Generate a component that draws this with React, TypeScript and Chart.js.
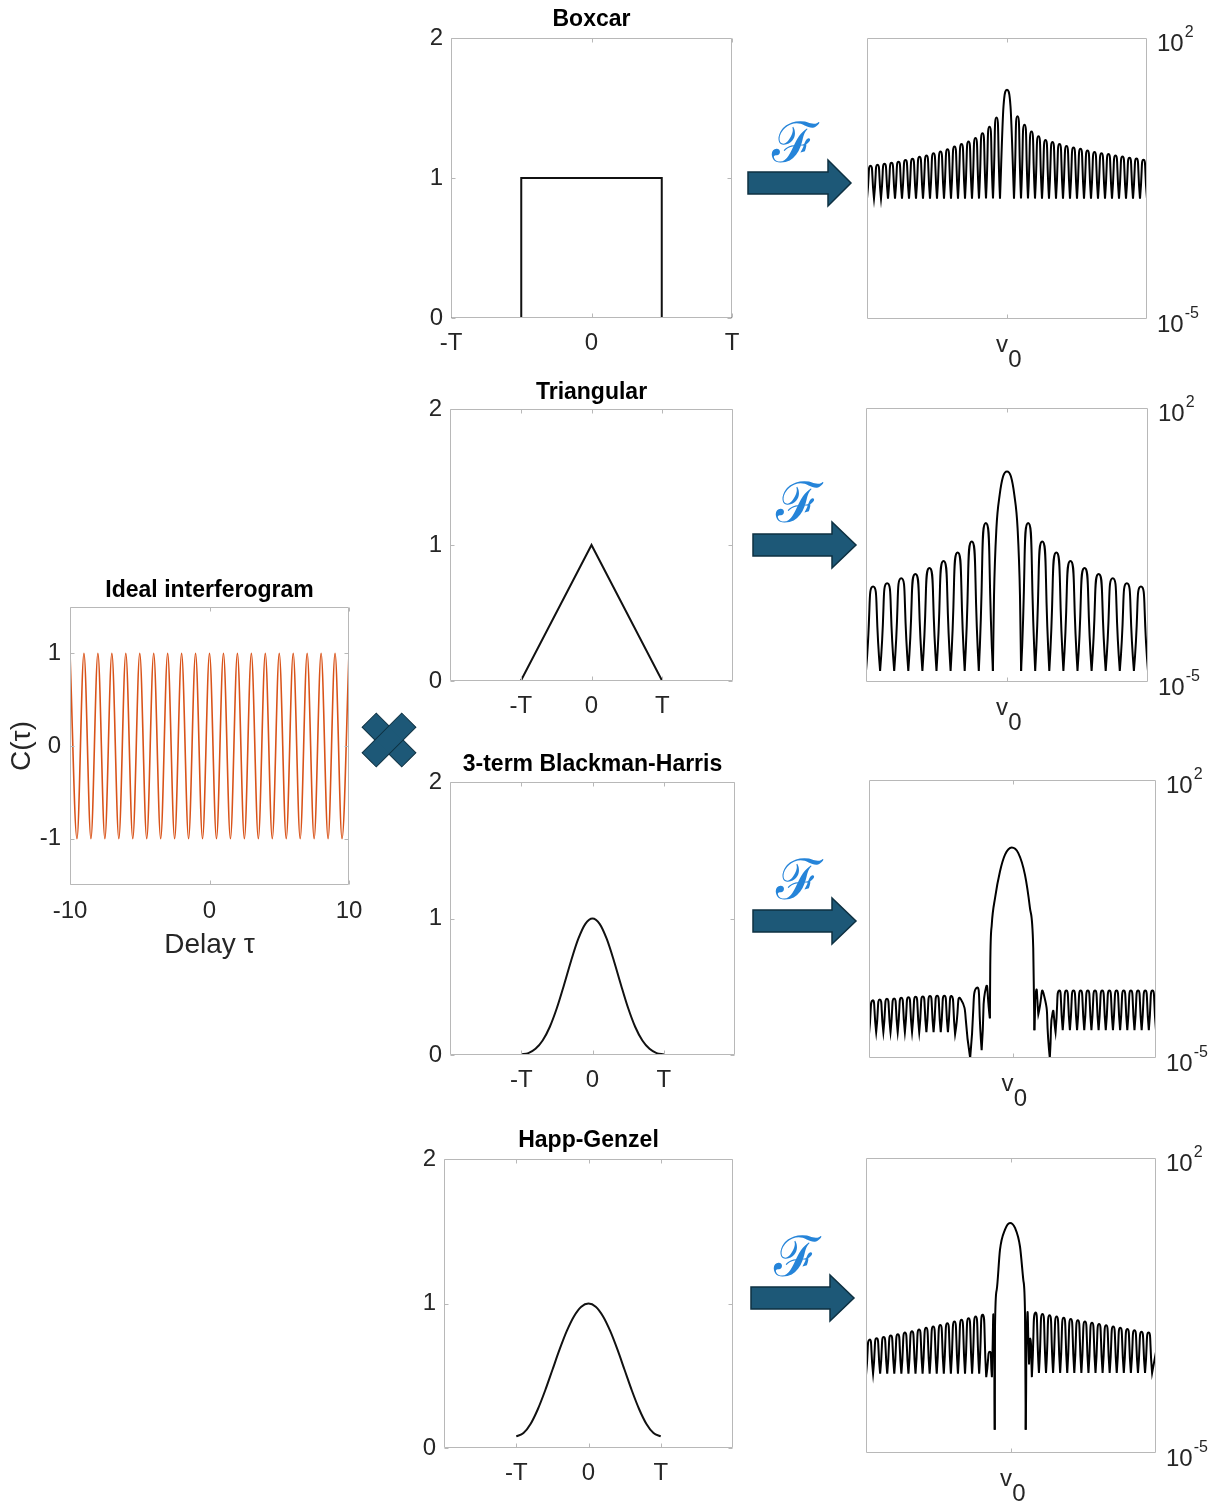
import React, { useEffect, useRef } from 'react';
import { Chart, registerables } from 'chart.js';

Chart.register(...registerables);

const FONT = "'Liberation Sans', Arial, Helvetica, sans-serif";
const TEXT = '#262626';
const BOX = '#b8b8b8';
const LINE = '#111111';
const ORANGE = '#D95319';
const ARROW = '#1d5877';
const ARROW_EDGE = '#0e3142';
const SCRIPT_BLUE = '#2584d9';

// ---------------- data ----------------
// Ideal interferogram: extrema of C(tau)
const interferogramX = [-10, -9.5, -9, -8.5, -8, -7.5, -7, -6.5, -6, -5.5, -5, -4.5, -4, -3.5, -3, -2.5, -2, -1.5, -1, -0.5, 0, 0.5, 1, 1.5, 2, 2.5, 3, 3.5, 4, 4.5, 5, 5.5, 6, 6.5, 7, 7.5, 8, 8.5, 9, 9.5, 10];
const interferogramY = [1, -1, 1, -1, 1, -1, 1, -1, 1, -1, 1, -1, 1, -1, 1, -1, 1, -1, 1, -1, 1, -1, 1, -1, 1, -1, 1, -1, 1, -1, 1, -1, 1, -1, 1, -1, 1, -1, 1, -1, 1];
const interferogramXTicks = [-10, 0, 10];
const interferogramYTicks = [-1, 0, 1];

// Window functions
const windowTickValues = [-1, 0, 1];
const windowTickLabels = ['-T', '0', 'T'];
const windowYTicks = [0, 1, 2];

const boxcarX = [-1, -0.5, -0.5, 0.5, 0.5, 1];
const boxcarY = [0, 0, 1, 1, 0, 0];
const triangularX = [-1, 0, 1];
const triangularY = [0, 1, 0];
const blackmanX = [-1, -0.9, -0.8, -0.7, -0.6, -0.5, -0.4, -0.3, -0.2, -0.1, 0, 0.1, 0.2, 0.3, 0.4, 0.5, 0.6, 0.7, 0.8, 0.9, 1];
const blackmanY = [0.005, 0.014, 0.045, 0.106, 0.205, 0.344, 0.513, 0.691, 0.85, 0.961, 1, 0.961, 0.85, 0.691, 0.513, 0.344, 0.205, 0.106, 0.045, 0.014, 0.005];
const happX = [-1, -0.9, -0.8, -0.7, -0.6, -0.5, -0.4, -0.3, -0.2, -0.1, 0, 0.1, 0.2, 0.3, 0.4, 0.5, 0.6, 0.7, 0.8, 0.9, 1];
const happY = [0.08, 0.103, 0.168, 0.27, 0.398, 0.54, 0.682, 0.81, 0.912, 0.978, 1, 0.978, 0.912, 0.81, 0.682, 0.54, 0.398, 0.27, 0.168, 0.103, 0.08];

// Spectra (log10 of magnitude)
const spectrumExpLabels = [2, -5];

const boxcarSpecLeftPeaks = [-1.18, -1.16, -1.13, -1.11, -1.08, -1.04, -1.01, -0.96, -0.93, -0.87, -0.83, -0.77, -0.7, -0.64, -0.58, -0.49, -0.37, -0.21, 0.02];
const boxcarSpecMainX = [-1, -0.5, 0, 0.5, 1];
const boxcarSpecMainY = [-2.0, 0.3, 0.71, 0.3, -2.0];
const boxcarSpecRightPeaks = [0.05, -0.16, -0.33, -0.45, -0.54, -0.59, -0.64, -0.69, -0.73, -0.76, -0.8, -0.84, -0.87, -0.89, -0.93, -0.95, -0.98, -1.0, -1.03];
const boxcarSpecNull = -2.0;

const triSpecLeftPeaks = [-2.56, -2.48, -2.35, -2.24, -2.09, -1.91, -1.69, -1.41, -0.94];
const triSpecMainX = [-1, -0.92, -0.75, -0.52, -0.28, 0, 0.28, 0.52, 0.75, 0.92, 1];
const triSpecMainY = [-4.72, -2.78, -1.07, -0.22, 0.25, 0.38, 0.25, -0.22, -1.07, -2.78, -4.72];
const triSpecRightPeaks = [-0.94, -1.41, -1.69, -1.91, -2.09, -2.24, -2.35, -2.48, -2.56];
const triSpecNull = -4.72;

const bhLeftX = [
  -20, -19.5, -19, -18.5, -18, -17.5, -17, -16.5, -16, -15.5, -15, -14.5, -14, -13.5, -13, -12.5, -12, -11.5, -11, -10.5, -10, -9.5, -9, -8.5, -8,
  -7.2, -5.9, -5.0, -4.3, -3.7, -3.15,
];
const bhLeftY = [
  -4.4, -3.55, -4.35, -3.53, -4.35, -3.51, -4.35, -3.5, -4.35, -3.48, -4.35, -3.47, -4.35, -3.46, -4.35, -3.45, -4.35, -3.44, -4.35, -3.43, -4.35, -3.43, -4.35, -3.44, -4.4,
  -3.52, -5.0, -3.23, -4.8, -3.23, -4.0,
];
const bhMainX = [-3.15, -3.1, -2.89, -2.43, -1.74, -1.04, -0.11, 0.81, 1.74, 2.43, 2.89, 2.99, 3.05];
const bhMainY = [-4.0, -2.65, -1.64, -0.97, -0.3, 0.12, 0.3, 0.16, -0.39, -1.22, -2.23, -3.48, -4.3];
const bhRightX = [
  3.05, 3.3, 3.6, 4.3, 5.2, 5.6, 6.0,
  6.5, 7, 7.5, 8, 8.5, 9, 9.5, 10, 10.5, 11, 11.5, 12, 12.5, 13, 13.5, 14, 14.5, 15, 15.5, 16, 16.5, 17, 17.5, 18, 18.5, 19, 19.5, 20,
];
const bhRightY = [
  -4.3, -3.3, -3.9, -3.36, -5.0, -3.85, -4.35,
  -3.3, -4.3, -3.3, -4.3, -3.3, -4.3, -3.3, -4.3, -3.3, -4.3, -3.3, -4.3, -3.3, -4.3, -3.3, -4.3, -3.3, -4.3, -3.3, -4.3, -3.3, -4.3, -3.3, -4.3, -3.3, -4.3, -3.3, -4.3,
];

const hgLeftX = [
  -20.5, -20, -19.5, -19, -18.5, -18, -17.5, -17, -16.5, -16, -15.5, -15, -14.5, -14, -13.5, -13, -12.5, -12, -11.5, -11, -10.5, -10, -9.5, -9, -8.5, -8, -7.5, -7, -6.5, -6, -5.5, -5, -4.5, -4, -3.5,
  -3.0, -2.7, -2.45, -2.3,
];
const hgLeftY = [
  -3.15, -2.31, -3.12, -2.28, -3.12, -2.25, -3.12, -2.21, -3.12, -2.18, -3.12, -2.14, -3.12, -2.11, -3.12, -2.07, -3.12, -2.03, -3.12, -2.0, -3.12, -1.96, -3.12, -1.92, -3.12, -1.88, -3.12, -1.84, -3.12, -1.8, -3.12, -1.76, -3.12, -1.72, -3.2,
  -2.6, -3.2, -1.79, -4.45,
];
const hgMainX = [-2.3, -2.26, -2.02, -1.56, -0.85, -0.14, 0.57, 1.27, 1.74, 1.98, 2.08];
const hgMainY = [-4.45, -2.0, -1.13, -0.18, 0.3, 0.46, 0.34, -0.1, -0.89, -1.68, -4.45];
const hgRightX = [
  2.08, 2.3, 2.55, 2.75, 2.95,
  3.45, 3.95, 4.45, 4.95, 5.45, 5.95, 6.45, 6.95, 7.45, 7.95, 8.45, 8.95, 9.45, 9.95, 10.45, 10.95, 11.45, 11.95, 12.45, 12.95, 13.45, 13.95, 14.45, 14.95, 15.45, 15.95, 16.45, 16.95, 17.45, 17.95, 18.45, 18.95, 19.45, 19.95, 20.5,
];
const hgRightY = [
  -4.45, -1.75, -2.9, -2.3, -3.2,
  -1.67, -3.1, -1.7, -3.1, -1.73, -3.1, -1.76, -3.1, -1.79, -3.1, -1.82, -3.1, -1.85, -3.1, -1.88, -3.1, -1.91, -3.1, -1.94, -3.1, -1.97, -3.1, -2.0, -3.1, -2.03, -3.1, -2.06, -3.1, -2.09, -3.1, -2.12, -3.1, -2.14, -3.1, -2.6,
];

// ---------------- helpers ----------------
type Pt = { x: number; y: number };
type Spectrum = { left: Pt[]; main: Pt[]; right: Pt[] };

function toPoints(xs: number[], ys: number[]): Pt[] {
  return xs.map((x, i) => ({ x, y: ys[i] }));
}

function logPoints(xs: number[], logs: number[]): Pt[] {
  return xs.map((x, i) => ({ x, y: Math.pow(10, logs[i]) }));
}

// log10 vertices -> magnitudes; local minima doubled so the curve forms cusps there
function cuspPoints(xs: number[], logs: number[]): Pt[] {
  const pts: Pt[] = [];
  for (let i = 0; i < xs.length; i++) {
    const p = { x: xs[i], y: Math.pow(10, logs[i]) };
    pts.push(p);
    if (i > 0 && i < xs.length - 1 && logs[i] < logs[i - 1] && logs[i] < logs[i + 1]) pts.push({ x: p.x, y: p.y });
  }
  return pts;
}

function uniformSpectrum(leftPeaks: number[], mainX: number[], mainY: number[], rightPeaks: number[], nullLevel: number): Spectrum {
  const lx: number[] = [];
  const ly: number[] = [];
  const n = leftPeaks.length;
  for (let i = 0; i < n; i++) {
    const s = -(n + 1) + i;
    lx.push(s, s + 0.5);
    ly.push(nullLevel, leftPeaks[i]);
  }
  lx.push(-1);
  ly.push(nullLevel);
  const rx: number[] = [1];
  const ry: number[] = [nullLevel];
  rightPeaks.forEach((p, j) => {
    rx.push(1 + j + 0.5, 2 + j);
    ry.push(p, nullLevel);
  });
  return { left: cuspPoints(lx, ly), main: logPoints(mainX, mainY), right: cuspPoints(rx, ry) };
}

function explicitSpectrum(lx: number[], ly: number[], mx: number[], my: number[], rx: number[], ry: number[]): Spectrum {
  return { left: cuspPoints(lx, ly), main: logPoints(mx, my), right: cuspPoints(rx, ry) };
}

const figurePlugin = {
  id: 'figure',
  afterDatasetsDraw(chart: any, _args: any, opts: any) {
    const { ctx, chartArea: a, scales } = chart;
    ctx.save();
    const L = Math.round(a.left) + 0.5;
    const R = Math.round(a.right) - 0.5;
    const T = Math.round(a.top) + 0.5;
    const B = Math.round(a.bottom) - 0.5;
    ctx.strokeStyle = BOX;
    ctx.lineWidth = 1;
    ctx.beginPath();
    ctx.rect(L, T, R - L, B - T);
    (opts.xTicks || []).forEach((v: number) => {
      const x = Math.round(scales.x.getPixelForValue(v)) + 0.5;
      ctx.moveTo(x, B);
      ctx.lineTo(x, B - 4);
      ctx.moveTo(x, T);
      ctx.lineTo(x, T + 4);
    });
    (opts.yTicks || []).forEach((v: number) => {
      const y = Math.round(scales.y.getPixelForValue(v)) + 0.5;
      ctx.moveTo(L, y);
      ctx.lineTo(L + 4, y);
      ctx.moveTo(R, y);
      ctx.lineTo(R - 4, y);
    });
    ctx.stroke();

    if (opts.title) {
      ctx.fillStyle = '#000';
      ctx.font = `bold 23px ${FONT}`;
      ctx.textAlign = 'center';
      ctx.textBaseline = 'middle';
      ctx.fillText(opts.title, (a.left + a.right) / 2, a.top - (opts.titleGap || 17));
    }

    ctx.fillStyle = TEXT;
    if (opts.expLabels) {
      opts.expLabels.forEach((e: number) => {
        const y = scales.y.getPixelForValue(Math.pow(10, e));
        const x0 = a.right + 10;
        ctx.font = `24px ${FONT}`;
        ctx.textAlign = 'left';
        ctx.textBaseline = 'middle';
        ctx.fillText('10', x0, y + 6);
        const w = ctx.measureText('10').width;
        ctx.font = `16px ${FONT}`;
        ctx.fillText(String(e), x0 + w + 1, y - 5);
      });
    }
    if (opts.nuLabel) {
      const x = scales.x.getPixelForValue(0);
      ctx.font = `24px ${FONT}`;
      ctx.textAlign = 'center';
      ctx.textBaseline = 'middle';
      ctx.fillText('v', x - 5, a.bottom + 26);
      ctx.fillText('0', x + 8, a.bottom + 41);
    }
    ctx.restore();
  },
};

const hiddenPlugins = { legend: { display: false }, tooltip: { enabled: false }, title: { display: false } };

function tickFont(size: number) {
  return { size, family: FONT, lineHeight: 1.2 };
}

function interferogramConfig() {
  return {
    type: 'line',
    data: {
      datasets: [
        {
          data: toPoints(interferogramX, interferogramY),
          borderColor: ORANGE,
          borderWidth: 1.6,
          pointRadius: 0,
          cubicInterpolationMode: 'monotone',
          fill: false,
        },
      ],
    },
    options: {
      animation: false,
      responsive: false,
      events: [],
      layout: { padding: { left: 0, right: 40, top: 30, bottom: 0 } },
      plugins: {
        ...hiddenPlugins,
        figure: { xTicks: interferogramXTicks, yTicks: interferogramYTicks, title: 'Ideal interferogram', titleGap: 16 },
      },
      scales: {
        x: {
          type: 'linear',
          min: -10,
          max: 10,
          grid: { display: false, drawTicks: false },
          border: { display: false },
          afterBuildTicks: (s: any) => {
            s.ticks = interferogramXTicks.map((v) => ({ value: v }));
          },
          afterFit: (s: any) => {
            s.height = 85;
          },
          ticks: { padding: 12, color: TEXT, font: tickFont(24), maxRotation: 0, autoSkip: false },
          title: { display: true, text: 'Delay τ', color: TEXT, font: { size: 28, family: FONT, lineHeight: 1.2 }, padding: { top: 0, bottom: 8 } },
        },
        y: {
          type: 'linear',
          min: -1.5,
          max: 1.5,
          grid: { display: false, drawTicks: false },
          border: { display: false },
          afterBuildTicks: (s: any) => {
            s.ticks = interferogramYTicks.map((v) => ({ value: v }));
          },
          afterFit: (s: any) => {
            s.width = 70;
          },
          ticks: { padding: 9, color: TEXT, font: tickFont(24), autoSkip: false },
          title: { display: true, text: 'C(τ)', color: TEXT, font: { size: 28, family: FONT, lineHeight: 1.2 }, padding: { top: 5, bottom: 0 } },
        },
      },
    },
    plugins: [figurePlugin],
  };
}

function windowConfig(title: string, xs: number[], ys: number[], xMin: number, xMax: number, smooth: boolean, gap: number) {
  return {
    type: 'line',
    data: {
      datasets: [
        {
          data: toPoints(xs, ys),
          borderColor: LINE,
          borderWidth: 2,
          pointRadius: 0,
          tension: 0,
          cubicInterpolationMode: smooth ? 'monotone' : 'default',
          fill: false,
        },
      ],
    },
    options: {
      animation: false,
      responsive: false,
      events: [],
      layout: { padding: { left: 0, right: 30, top: 30, bottom: 0 } },
      plugins: {
        ...hiddenPlugins,
        figure: { xTicks: windowTickValues, yTicks: windowYTicks, title, titleGap: gap },
      },
      scales: {
        x: {
          type: 'linear',
          min: xMin,
          max: xMax,
          grid: { display: false, drawTicks: false },
          border: { display: false },
          afterBuildTicks: (s: any) => {
            s.ticks = windowTickValues.map((v) => ({ value: v }));
          },
          afterFit: (s: any) => {
            s.height = 50;
          },
          ticks: {
            padding: 11,
            color: TEXT,
            font: tickFont(24),
            maxRotation: 0,
            autoSkip: false,
            callback: (v: number) => windowTickLabels[windowTickValues.indexOf(v)],
          },
        },
        y: {
          type: 'linear',
          min: 0,
          max: 2,
          grid: { display: false, drawTicks: false },
          border: { display: false },
          afterBuildTicks: (s: any) => {
            s.ticks = windowYTicks.map((v) => ({ value: v }));
          },
          afterFit: (s: any) => {
            s.width = 50;
          },
          ticks: { padding: 8, color: TEXT, font: tickFont(24), autoSkip: false },
        },
      },
    },
    plugins: [figurePlugin],
  };
}

function spectrumConfig(spec: Spectrum, xMin: number, xMax: number) {
  const side = { borderColor: '#000', borderWidth: 2, pointRadius: 0, tension: 0.75, fill: false };
  return {
    type: 'line',
    data: {
      datasets: [
        { ...side, data: spec.left },
        { ...side, data: spec.main, tension: 0.4, cubicInterpolationMode: 'monotone' },
        { ...side, data: spec.right },
      ],
    },
    options: {
      animation: false,
      responsive: false,
      events: [],
      layout: { padding: { left: 10, right: 60, top: 20, bottom: 50 } },
      plugins: {
        ...hiddenPlugins,
        figure: { xTicks: [0], yTicks: [], expLabels: spectrumExpLabels, nuLabel: true },
      },
      scales: {
        x: { type: 'linear', display: false, min: xMin, max: xMax },
        y: { type: 'logarithmic', display: false, min: 1e-5, max: 1e2 },
      },
    },
    plugins: [figurePlugin],
  };
}

// ---------------- layout ----------------
type Box = { left: number; top: number; width: number; height: number };

function windowBox(l: number, r: number, t: number, b: number): Box {
  return { left: l - 50, top: t - 30, width: r - l + 80, height: b - t + 80 };
}
function spectrumBox(l: number, r: number, t: number, b: number): Box {
  return { left: l - 10, top: t - 20, width: r - l + 70, height: b - t + 70 };
}

function ChartCanvas({ box, make }: { box: Box; make: () => any }) {
  const ref = useRef<HTMLCanvasElement | null>(null);
  useEffect(() => {
    if (!ref.current) return;
    const chart = new Chart(ref.current, make());
    return () => chart.destroy();
  }, []);
  return (
    <canvas
      ref={ref}
      width={box.width}
      height={box.height}
      style={{ position: 'absolute', left: box.left, top: box.top, width: box.width, height: box.height }}
    />
  );
}

function Arrow({ x0, xs, xt, c }: { x0: number; xs: number; xt: number; c: number }) {
  const h = 11;
  const H = 23;
  const pts = `${x0},${c - h} ${xs},${c - h} ${xs},${c - H} ${xt},${c} ${xs},${c + H} ${xs},${c + h} ${x0},${c + h}`;
  return <polygon points={pts} fill={ARROW} stroke={ARROW_EDGE} strokeWidth={1.5} strokeLinejoin="miter" />;
}

function ScriptF({ x, y }: { x: number; y: number }) {
  return (
    <text x={x} y={y} fontSize={56} fontFamily="'DejaVu Serif', serif" fill={SCRIPT_BLUE} textAnchor="middle">
      ℱ
    </text>
  );
}

export default function App() {
  return (
    <div style={{ position: 'absolute', left: 0, top: 0, width: 1224, height: 1504, background: '#fff', overflow: 'hidden' }}>
      <ChartCanvas box={{ left: 0, top: 577, width: 389, height: 393 }} make={interferogramConfig} />

      <ChartCanvas box={windowBox(451, 732, 38, 318)} make={() => windowConfig('Boxcar', boxcarX, boxcarY, -1, 1, false, 18)} />
      <ChartCanvas box={windowBox(450, 733, 409, 681)} make={() => windowConfig('Triangular', triangularX, triangularY, -2, 2, false, 16)} />
      <ChartCanvas box={windowBox(450, 735, 782, 1055)} make={() => windowConfig('3-term Blackman-Harris', blackmanX, blackmanY, -2, 2, true, 17)} />
      <ChartCanvas box={windowBox(444, 733, 1159, 1448)} make={() => windowConfig('Happ-Genzel', happX, happY, -2, 2, true, 18)} />

      <ChartCanvas
        box={spectrumBox(867, 1147, 38, 319)}
        make={() => spectrumConfig(uniformSpectrum(boxcarSpecLeftPeaks, boxcarSpecMainX, boxcarSpecMainY, boxcarSpecRightPeaks, boxcarSpecNull), -20, 20)}
      />
      <ChartCanvas
        box={spectrumBox(866, 1148, 408, 682)}
        make={() => spectrumConfig(uniformSpectrum(triSpecLeftPeaks, triSpecMainX, triSpecMainY, triSpecRightPeaks, triSpecNull), -10, 10)}
      />
      <ChartCanvas
        box={spectrumBox(869, 1156, 780, 1058)}
        make={() => spectrumConfig(explicitSpectrum(bhLeftX, bhLeftY, bhMainX, bhMainY, bhRightX, bhRightY), -20, 20)}
      />
      <ChartCanvas
        box={spectrumBox(866, 1156, 1158, 1453)}
        make={() => spectrumConfig(explicitSpectrum(hgLeftX, hgLeftY, hgMainX, hgMainY, hgRightX, hgRightY), -20.5, 20.5)}
      />

      <svg width={1224} height={1504} style={{ position: 'absolute', left: 0, top: 0, pointerEvents: 'none' }}>
        <Arrow x0={748} xs={828} xt={851} c={183} />
        <Arrow x0={753} xs={832} xt={856} c={545} />
        <Arrow x0={753} xs={832} xt={856} c={921} />
        <Arrow x0={751} xs={830} xt={854} c={1298} />
        <ScriptF x={795} y={162} />
        <ScriptF x={799} y={522} />
        <ScriptF x={799} y={899} />
        <ScriptF x={797} y={1276} />
        <g transform="translate(389,740)">
          <rect x={-28} y={-10} width={56} height={20} fill={ARROW} stroke={ARROW_EDGE} strokeWidth={1} transform="rotate(45)" />
          <rect x={-28} y={-10} width={56} height={20} fill={ARROW} stroke={ARROW_EDGE} strokeWidth={1} transform="rotate(-45)" />
          <rect x={-9} y={-9} width={18} height={18} fill={ARROW} transform="rotate(45)" />
        </g>
      </svg>
    </div>
  );
}
